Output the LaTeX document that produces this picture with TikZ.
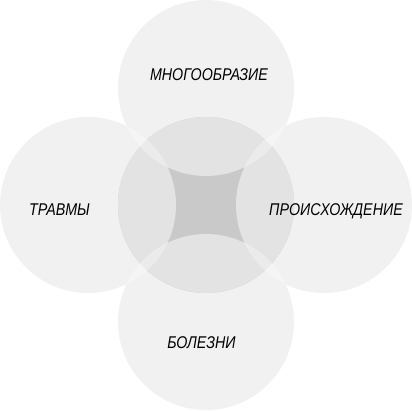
\documentclass[tikz,border=0pt]{standalone}
\usepackage{fontspec}
\setmainfont{Liberation Sans}[FakeStretch=0.84]
\definecolor{outerc}{RGB}{241,241,241}
\definecolor{corec}{RGB}{201,201,201}
\definecolor{lobec}{RGB}{227,227,227}
\definecolor{lensc}{RGB}{245,245,245}
\definecolor{lensinc}{RGB}{235,235,235}
\tikzset{
  lbl/.style={font=\fontsize{17}{17}\selectfont\itshape, text=black, inner sep=0pt, text height=12.2pt, text depth=0pt, anchor=center}
}
\begin{document}
\begin{tikzpicture}[x=1pt,y=1pt]
\useasboundingbox (0,0) rectangle (412,410);
\def\rad{88}
\coordinate (C) at (206,205);
\coordinate (T) at (206,322);
\coordinate (B) at (206,88);
\coordinate (L) at (88,205);
\coordinate (Rt) at (324,205);
% outer circles
\fill[outerc] (T) circle (\rad) (B) circle (\rad) (L) circle (\rad) (Rt) circle (\rad);
% core circle
\fill[corec] (C) circle (\rad);
% lobes
\begin{scope}
  \clip (C) circle (\rad);
  \fill[lobec] (T) circle (\rad) (B) circle (\rad) (L) circle (\rad) (Rt) circle (\rad);
\end{scope}
% lenses between neighbouring outer circles
\foreach \a/\b in {T/Rt, Rt/B, B/L, L/T}{
  \begin{scope}
    \clip (\a) circle (\rad);
    \fill[lensc] (\b) circle (\rad);
    \clip (C) circle (\rad);
    \fill[lensinc] (\b) circle (\rad);
  \end{scope}
}
% labels
\node[lbl] (tl) at (209,335.5) {МНОГООБРАЗИЕ};
\node[lbl] (ll) at (59.5,201) {ТРАВМЫ};
\node[lbl] (rl) at (336,201) {ПРОИСХОЖДЕНИЕ};
\node[lbl] (bl) at (201.5,68) {БОЛЕЗНИ};
\end{tikzpicture}
\end{document}
